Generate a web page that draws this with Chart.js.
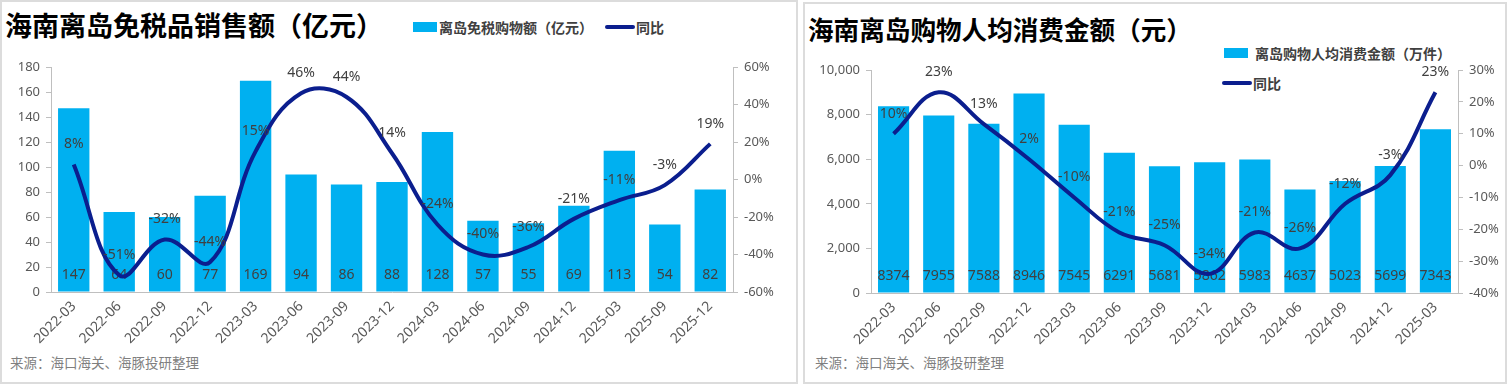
<!DOCTYPE html>
<html>
<head>
<meta charset="utf-8">
<script src="https://cdn.jsdelivr.net/npm/chart.js@4.4.0/dist/chart.umd.min.js"></script>
<style>
  body { margin: 0; width: 1509px; height: 385px; background: #fff; position: relative; overflow: hidden;
         font-family: "Noto Sans CJK SC", "Noto Sans", sans-serif; }
  .panel { position: absolute; border: 2px solid #dcdcdc; box-sizing: border-box; }
  .title { position: absolute; font-weight: 700; color: #000; white-space: nowrap; line-height: 1; }
  .legend { position: absolute; font-size: 14px; font-weight: 700; color: #404040; white-space: nowrap; line-height: 1; }
  .swatch { position: absolute; width: 24px; height: 10px; background: #00B0F0; }
  .lineSw { position: absolute; width: 30px; height: 4px; border-radius: 2px; background: #0B1E8E; }
  .src { position: absolute; font-size: 13.5px; color: #7f7f7f; white-space: nowrap; line-height: 1; }
  canvas { position: absolute; top: 0; }
</style>
</head>
<body>
<div class="panel" style="left:0;top:0;width:798px;height:384px"></div>
<div class="panel" style="left:803px;top:2px;width:704px;height:382px"></div>

<div class="title" style="left:5px;top:11px;font-size:27px">海南离岛免税品销售额（亿元）</div>
<div class="title" style="left:808px;top:16px;font-size:25.6px">海南离岛购物人均消费金额（元）</div>

<div class="swatch" style="left:413px;top:22px"></div>
<div class="legend" style="left:439px;top:20px">离岛免税购物额（亿元）</div>
<div class="lineSw" style="left:605px;top:25px"></div>
<div class="legend" style="left:636px;top:20px">同比</div>

<div class="swatch" style="left:1224px;top:48px"></div>
<div class="legend" style="left:1255px;top:46px">离岛购物人均消费金额（万件）</div>
<div class="lineSw" style="left:1222px;top:81px"></div>
<div class="legend" style="left:1253px;top:76px">同比</div>

<div class="src" style="left:10px;top:356px">来源：海口海关、海豚投研整理</div>
<div class="src" style="left:815px;top:356px">来源：海口海关、海豚投研整理</div>

<canvas id="salesChart" width="800" height="385" style="left:0"></canvas>
<canvas id="spendChart" width="706" height="385" style="left:803px"></canvas>

<script>
// Left chart: duty-free sales (100m yuan) and YoY
const salesLabels = ['2022-03', '2022-06', '2022-09', '2022-12', '2023-03', '2023-06', '2023-09', '2023-12',
                     '2024-03', '2024-06', '2024-09', '2024-12', '2025-03', '2025-09', '2025-12'];
const salesValues = [147, 64, 60, 77, 169, 94, 86, 88, 128, 57, 55, 69, 113, 54, 82];
const salesYoY = [8, -51, -32, -44, 15, 46, 44, 14, -24, -40, -36, -21, -11, -3, 19];

// Right chart: per-capita spending (yuan) and YoY
const spendLabels = ['2022-03', '2022-06', '2022-09', '2022-12', '2023-03', '2023-06', '2023-09', '2023-12',
                     '2024-03', '2024-06', '2024-09', '2024-12', '2025-03'];
const spendValues = [8374, 7955, 7588, 8946, 7545, 6291, 5681, 5862, 5983, 4637, 5023, 5699, 7343];
const spendYoY = [10, 23, 13, 2, -10, -21, -25, -34, -21, -26, -12, -3, 23];

const BAR_COLOR = '#00B0F0';
const LINE_COLOR = '#0B1E8E';
const AXIS_COLOR = '#bfbfbf';
const TEXT_COLOR = '#595959';
const LABEL_COLOR = '#404040';
const FONT = "'Noto Sans', 'Noto Sans CJK SC', sans-serif";

// draws value labels: bar values near the base, line values above each point
const valueLabels = {
  id: 'valueLabels',
  afterDatasetDraw(chart, args) {
    const ctx = chart.ctx;
    const ds = chart.data.datasets[args.index];
    const area = chart.chartArea;
    ctx.save();
    ctx.font = '14px ' + FONT;
    ctx.fillStyle = LABEL_COLOR;
    ctx.textAlign = 'center';
    ctx.textBaseline = 'middle';
    args.meta.data.forEach((el, i) => {
      const v = ds.data[i];
      if (ds.type === 'line') {
        ctx.fillText(v + '%', el.x, el.y - 20);
      } else {
        ctx.fillText(String(v), el.x, area.bottom - 17);
      }
    });
    ctx.restore();
  }
};

function fixWidth(w) {
  return function(scale) { scale.width = w; };
}

function buildChart(id, cfg) {
  const ctx = document.getElementById(id).getContext('2d');
  return new Chart(ctx, {
    type: 'bar',
    data: {
      labels: cfg.labels,
      datasets: [
        {
          type: 'line',
          label: '同比',
          data: cfg.yoy,
          yAxisID: 'y1',
          borderColor: LINE_COLOR,
          borderWidth: 4,
          pointRadius: 0,
          tension: 0.4,
          fill: false,
          order: 0
        },
        {
          type: 'bar',
          label: cfg.barName,
          data: cfg.values,
          yAxisID: 'y',
          backgroundColor: BAR_COLOR,
          barPercentage: 0.69,
          categoryPercentage: 1,
          order: 1
        }
      ]
    },
    options: {
      responsive: false,
      animation: false,
      layout: { padding: { top: cfg.top, left: 0, right: 0, bottom: 0 } },
      plugins: {
        legend: { display: false },
        tooltip: { enabled: false }
      },
      scales: {
        x: {
          grid: { display: false, drawTicks: false },
          border: { display: true, color: AXIS_COLOR, width: 1 },
          ticks: {
            color: TEXT_COLOR,
            font: { family: FONT, size: 14 },
            minRotation: 45,
            maxRotation: 45,
            autoSkip: false,
            padding: 6
          },
          afterFit(scale) { scale.height = cfg.xHeight; }
        },
        y: {
          position: 'left',
          min: cfg.yMin,
          max: cfg.yMax,
          grid: { display: true, drawOnChartArea: false, tickLength: 5, color: AXIS_COLOR },
          border: { display: true, color: AXIS_COLOR },
          ticks: {
            stepSize: cfg.yStep,
            color: TEXT_COLOR,
            padding: 6,
            font: { family: FONT, size: 13 },
            callback: cfg.yFormat
          },
          afterFit: fixWidth(cfg.leftW)
        },
        y1: {
          position: 'right',
          min: cfg.rMin,
          max: cfg.rMax,
          grid: { display: true, drawOnChartArea: false, tickLength: 5, color: AXIS_COLOR },
          border: { display: true, color: AXIS_COLOR },
          ticks: {
            stepSize: cfg.rStep,
            color: TEXT_COLOR,
            padding: 6,
            font: { family: FONT, size: 13 },
            callback: function(value) { return value + '%'; }
          },
          afterFit: fixWidth(cfg.rightW)
        }
      }
    },
    plugins: [valueLabels]
  });
}

buildChart('salesChart', {
  labels: salesLabels,
  values: salesValues,
  yoy: salesYoY,
  barName: '离岛免税购物额（亿元）',
  top: 67, xHeight: 93, leftW: 51, rightW: 67,
  yMin: 0, yMax: 180, yStep: 20,
  yFormat: function(value) { return value; },
  rMin: -60, rMax: 60, rStep: 20
});

buildChart('spendChart', {
  labels: spendLabels,
  values: spendValues,
  yoy: spendYoY,
  barName: '离岛购物人均消费金额（万件）',
  top: 70, xHeight: 92, leftW: 68, rightW: 51,
  yMin: 0, yMax: 10000, yStep: 2000,
  yFormat: function(value) { return value.toLocaleString('en-US'); },
  rMin: -40, rMax: 30, rStep: 10
});
</script>
</body>
</html>
